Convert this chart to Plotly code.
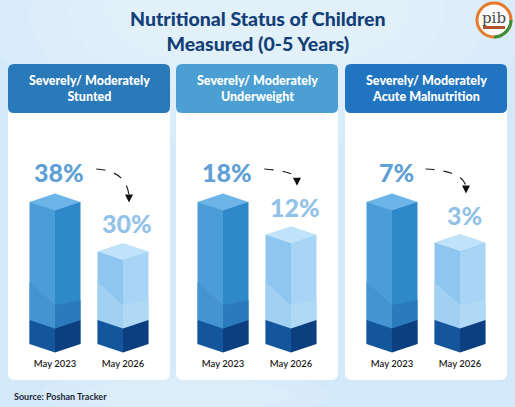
import plotly.graph_objects as go

W, H = 515, 407

# ---------------- data ----------------
title_lines = ["Nutritional Status of Children", "Measured (0-5 Years)"]
indicators = ["Severely/ Moderately<br>Stunted",
              "Severely/ Moderately<br>Underweight",
              "Severely/ Moderately<br>Acute Malnutrition"]
periods = ["May 2023", "May 2026"]
values_2023 = [38, 18, 7]
values_2026 = [30, 12, 3]
source_text = "Source: Poshan Tracker"

# ---------------- styling / layout constants ----------------
FONT = "Lato"
panel_left = [8, 176, 345]
panel_w = 162
header_colors = ["#2a79b9", "#4b9fd3", "#2174bf"]
axis_floor = [15, -8, -7]          # visual baseline of each (pictorial) panel axis
face_left = ["#4b9dd7", "#8ec6ef"]
face_right = ["#2f88ca", "#a8d5f5"]
cap_color = ["#6db4e9", "#c0e3f9"]
shade_left = ["#4494d1", "#a2d0f3"]
shade_right = ["#2a7bbd", "#b0d9f6"]
band_left = "#14569b"
band_right = "#0b3f7f"
label_color = ["#5e9fd5", "#93c2e8"]
PX_PER_X = 68.0
HALF = 25.5      # half bar width in px
D = 8.5          # isometric depth in px
BAND = 24        # dark base band height in px
Y_TOP, Y_BOT, Y_FLOOR, Y_BAR1 = 115, 356, 344, 202


def X(p):
    return p / W


def Y(p):
    return 1 - p / H


def rrect(x0, y0, x1, y1, r, top=True, bottom=True):
    rt = r if top else 0
    rb = r if bottom else 0
    pts = [f"M {X(x0 + rt)},{Y(y0)}", f"L {X(x1 - rt)},{Y(y0)}"]
    if rt:
        pts.append(f"Q {X(x1)},{Y(y0)} {X(x1)},{Y(y0 + rt)}")
    pts.append(f"L {X(x1)},{Y(y1 - rb)}")
    if rb:
        pts.append(f"Q {X(x1)},{Y(y1)} {X(x1 - rb)},{Y(y1)}")
    pts.append(f"L {X(x0 + rb)},{Y(y1)}")
    if rb:
        pts.append(f"Q {X(x0)},{Y(y1)} {X(x0)},{Y(y1 - rb)}")
    pts.append(f"L {X(x0)},{Y(y0 + rt)}")
    if rt:
        pts.append(f"Q {X(x0)},{Y(y0)} {X(x0 + rt)},{Y(y0)}")
    pts.append("Z")
    return " ".join(pts)


fig = go.Figure()
shapes = []
annotations = []

# soft background glow (stacked translucent ellipses)
for (x0, x1, y0, y1) in [(-10, 525, 150, -110), (30, 485, 120, -90),
                         (70, 445, 95, -70), (110, 405, 70, -50)]:
    shapes.append(dict(type="circle", xref="paper", yref="paper", layer="below",
                       x0=X(x0), x1=X(x1), y0=Y(y0), y1=Y(y1),
                       fillcolor="#eaf5fd", opacity=0.28, line=dict(width=0)))
for (x0, x1, y0, y1) in [(40, 330, 420, 370), (80, 290, 412, 378)]:
    shapes.append(dict(type="circle", xref="paper", yref="paper", layer="below",
                       x0=X(x0), x1=X(x1), y0=Y(y0), y1=Y(y1),
                       fillcolor="#e6f3fc", opacity=0.3, line=dict(width=0)))

layout_axes = {}
for i in range(3):
    s = "" if i == 0 else str(i + 1)
    xr, yr = f"x{s}", f"y{s}"
    pl = panel_left[i]
    v1, v2 = values_2023[i], values_2026[i]
    f = axis_floor[i]
    u = (v1 - f) / (Y_FLOOR - Y_BAR1)          # data units per pixel
    lo = f - (Y_BOT - Y_FLOOR) * u
    hi = v1 + (Y_BAR1 - Y_TOP) * u

    layout_axes[f"xaxis{s}"] = dict(
        domain=[X(pl), X(pl + panel_w)], range=[-47 / PX_PER_X, 115 / PX_PER_X],
        tickvals=[0, 1], ticktext=periods, showgrid=False, zeroline=False,
        showline=False, ticks="", anchor=yr, fixedrange=True,
        tickfont=dict(family=FONT, size=9.5, color="#1e1e1e", weight=600))
    layout_axes[f"yaxis{s}"] = dict(
        domain=[Y(Y_BOT), Y(Y_TOP)], range=[lo, hi], visible=False,
        anchor=xr, fixedrange=True)

    # panel card + header
    shapes.append(dict(type="path", xref="paper", yref="paper", layer="below",
                       path=rrect(pl, 108, pl + panel_w, 380, 7, top=False),
                       fillcolor="white", line=dict(width=0)))
    shapes.append(dict(type="path", xref="paper", yref="paper", layer="below",
                       path=rrect(pl, 64, pl + panel_w, 113, 6),
                       fillcolor=header_colors[i], line=dict(width=0)))
    annotations.append(dict(xref="paper", yref="paper", x=X(pl + panel_w / 2), y=Y(89),
                            xanchor="center", yanchor="middle",
                            text=indicators[i], showarrow=False,
                            font=dict(family=FONT, size=12.5, color="white", weight=900)))

    vals = [v1, v2]
    for offs, colors in ((-HALF / PX_PER_X, face_left), (0, face_right)):
        fig.add_trace(go.Bar(
            x=[0, 1], y=[v - f for v in vals], base=[f, f],
            width=HALF / PX_PER_X, offset=offs,
            marker=dict(color=colors, line=dict(width=0)),
            customdata=vals, text=periods, textposition="none",
            hovertemplate="%{text}: %{customdata}%<extra></extra>",
            xaxis=xr, yaxis=yr, showlegend=False))

    for j, v in enumerate(vals):
        common = dict(type="path", xref=xr, yref=yr, xsizemode="pixel", ysizemode="pixel",
                      line=dict(width=0))
        # subtle shading near the base
        shapes.append(dict(common, xanchor=j, yanchor=f, fillcolor=shade_left[j],
                           path=f"M {-HALF},62 L 0,39 L 0,{BAND - D} L {-HALF},{BAND} Z"))
        shapes.append(dict(common, xanchor=j, yanchor=f, fillcolor=shade_right[j],
                           path=f"M 0,39 L {HALF},44 L {HALF},{BAND} L 0,{BAND - D} Z"))
        # dark base band
        shapes.append(dict(common, xanchor=j, yanchor=f, fillcolor=band_left,
                           path=f"M {-HALF},0 L {-HALF},{BAND} L 0,{BAND - D} L 0,{-D} Z"))
        shapes.append(dict(common, xanchor=j, yanchor=f, fillcolor=band_right,
                           path=f"M 0,{-D} L 0,{BAND - D} L {HALF},{BAND} L {HALF},0 Z"))
        # top cap
        shapes.append(dict(common, xanchor=j, yanchor=v, fillcolor=cap_color[j],
                           path=f"M {-HALF},0 L 0,{D} L {HALF},0 L 0,{-D} Z"))
        # value label
        annotations.append(dict(xref=xr, yref=yr, x=j, y=v, text=f"{v}%", showarrow=False,
                                xanchor="center", yanchor="middle",
                                xshift=4, yshift=30 if j == 0 else 28,
                                font=dict(family=FONT, size=25, color=label_color[j], weight=900)))

    # dashed curved arrow from first label to second
    lbl_w = 15.5 * len(f"{v1}%")
    sx = (4 + lbl_w / 2 + 14) / PX_PER_X
    sy = v1 + 33 * u
    ex = 1 + 6 / PX_PER_X
    ey = v2 + (28 + 28) * u
    shapes.append(dict(type="path", xref=xr, yref=yr,
                       path=f"M {sx},{sy} Q {ex - 0.04},{sy - 2 * u} {ex},{ey}",
                       line=dict(color="#222222", width=1.2, dash="dash")))
    shapes.append(dict(type="path", xref=xr, yref=yr, xsizemode="pixel", ysizemode="pixel",
                       xanchor=ex, yanchor=ey, path="M -4,1 L 4,1 L 0,-7 Z",
                       fillcolor="#111111", line=dict(width=0)))

# title
annotations.append(dict(xref="paper", yref="paper", x=0.5, y=Y(31),
                        xanchor="center", yanchor="middle",
                        text="<br>".join(title_lines), showarrow=False,
                        font=dict(family=FONT, size=19.5, color="#123f77", weight=900)))
# source
annotations.append(dict(xref="paper", yref="paper", x=X(12), y=Y(396), xanchor="left",
                        yanchor="middle", text=source_text, showarrow=False,
                        font=dict(family=FONT, size=9, color="#1b2838", weight=700)))

# logo (simplified)
lx, ly = 494, 20
shapes.append(dict(type="circle", xref="paper", yref="paper", xsizemode="pixel",
                   ysizemode="pixel", xanchor=X(lx), yanchor=Y(ly), x0=-17, x1=17, y0=-17, y1=17,
                   fillcolor="#fbfbfb", line=dict(color="#e8792b", width=3)))
shapes.append(dict(type="path", xref="paper", yref="paper", xsizemode="pixel",
                   ysizemode="pixel", xanchor=X(lx), yanchor=Y(ly),
                   path="M 17,0 C 17,-9 9,-17 0,-17", line=dict(color="#3a8f3a", width=3)))
shapes.append(dict(type="rect", xref="paper", yref="paper", xsizemode="pixel",
                   ysizemode="pixel", xanchor=X(lx), yanchor=Y(ly), x0=-11, x1=11, y0=-9, y1=-6,
                   fillcolor="#b0552a", line=dict(width=0)))
annotations.append(dict(xref="paper", yref="paper", x=X(lx), y=Y(ly - 2), text="pib",
                        xanchor="center", yanchor="middle",
                        showarrow=False, font=dict(family="DejaVu Serif", size=15, color="#4a4a4a")))

fig.update_layout(
    width=W, height=H, margin=dict(l=0, r=0, t=0, b=0),
    paper_bgcolor="#d3e9fa", plot_bgcolor="rgba(0,0,0,0)",
    barmode="overlay", showlegend=False,
    shapes=shapes, annotations=annotations, **layout_axes)

fig.write_html("out.html")
